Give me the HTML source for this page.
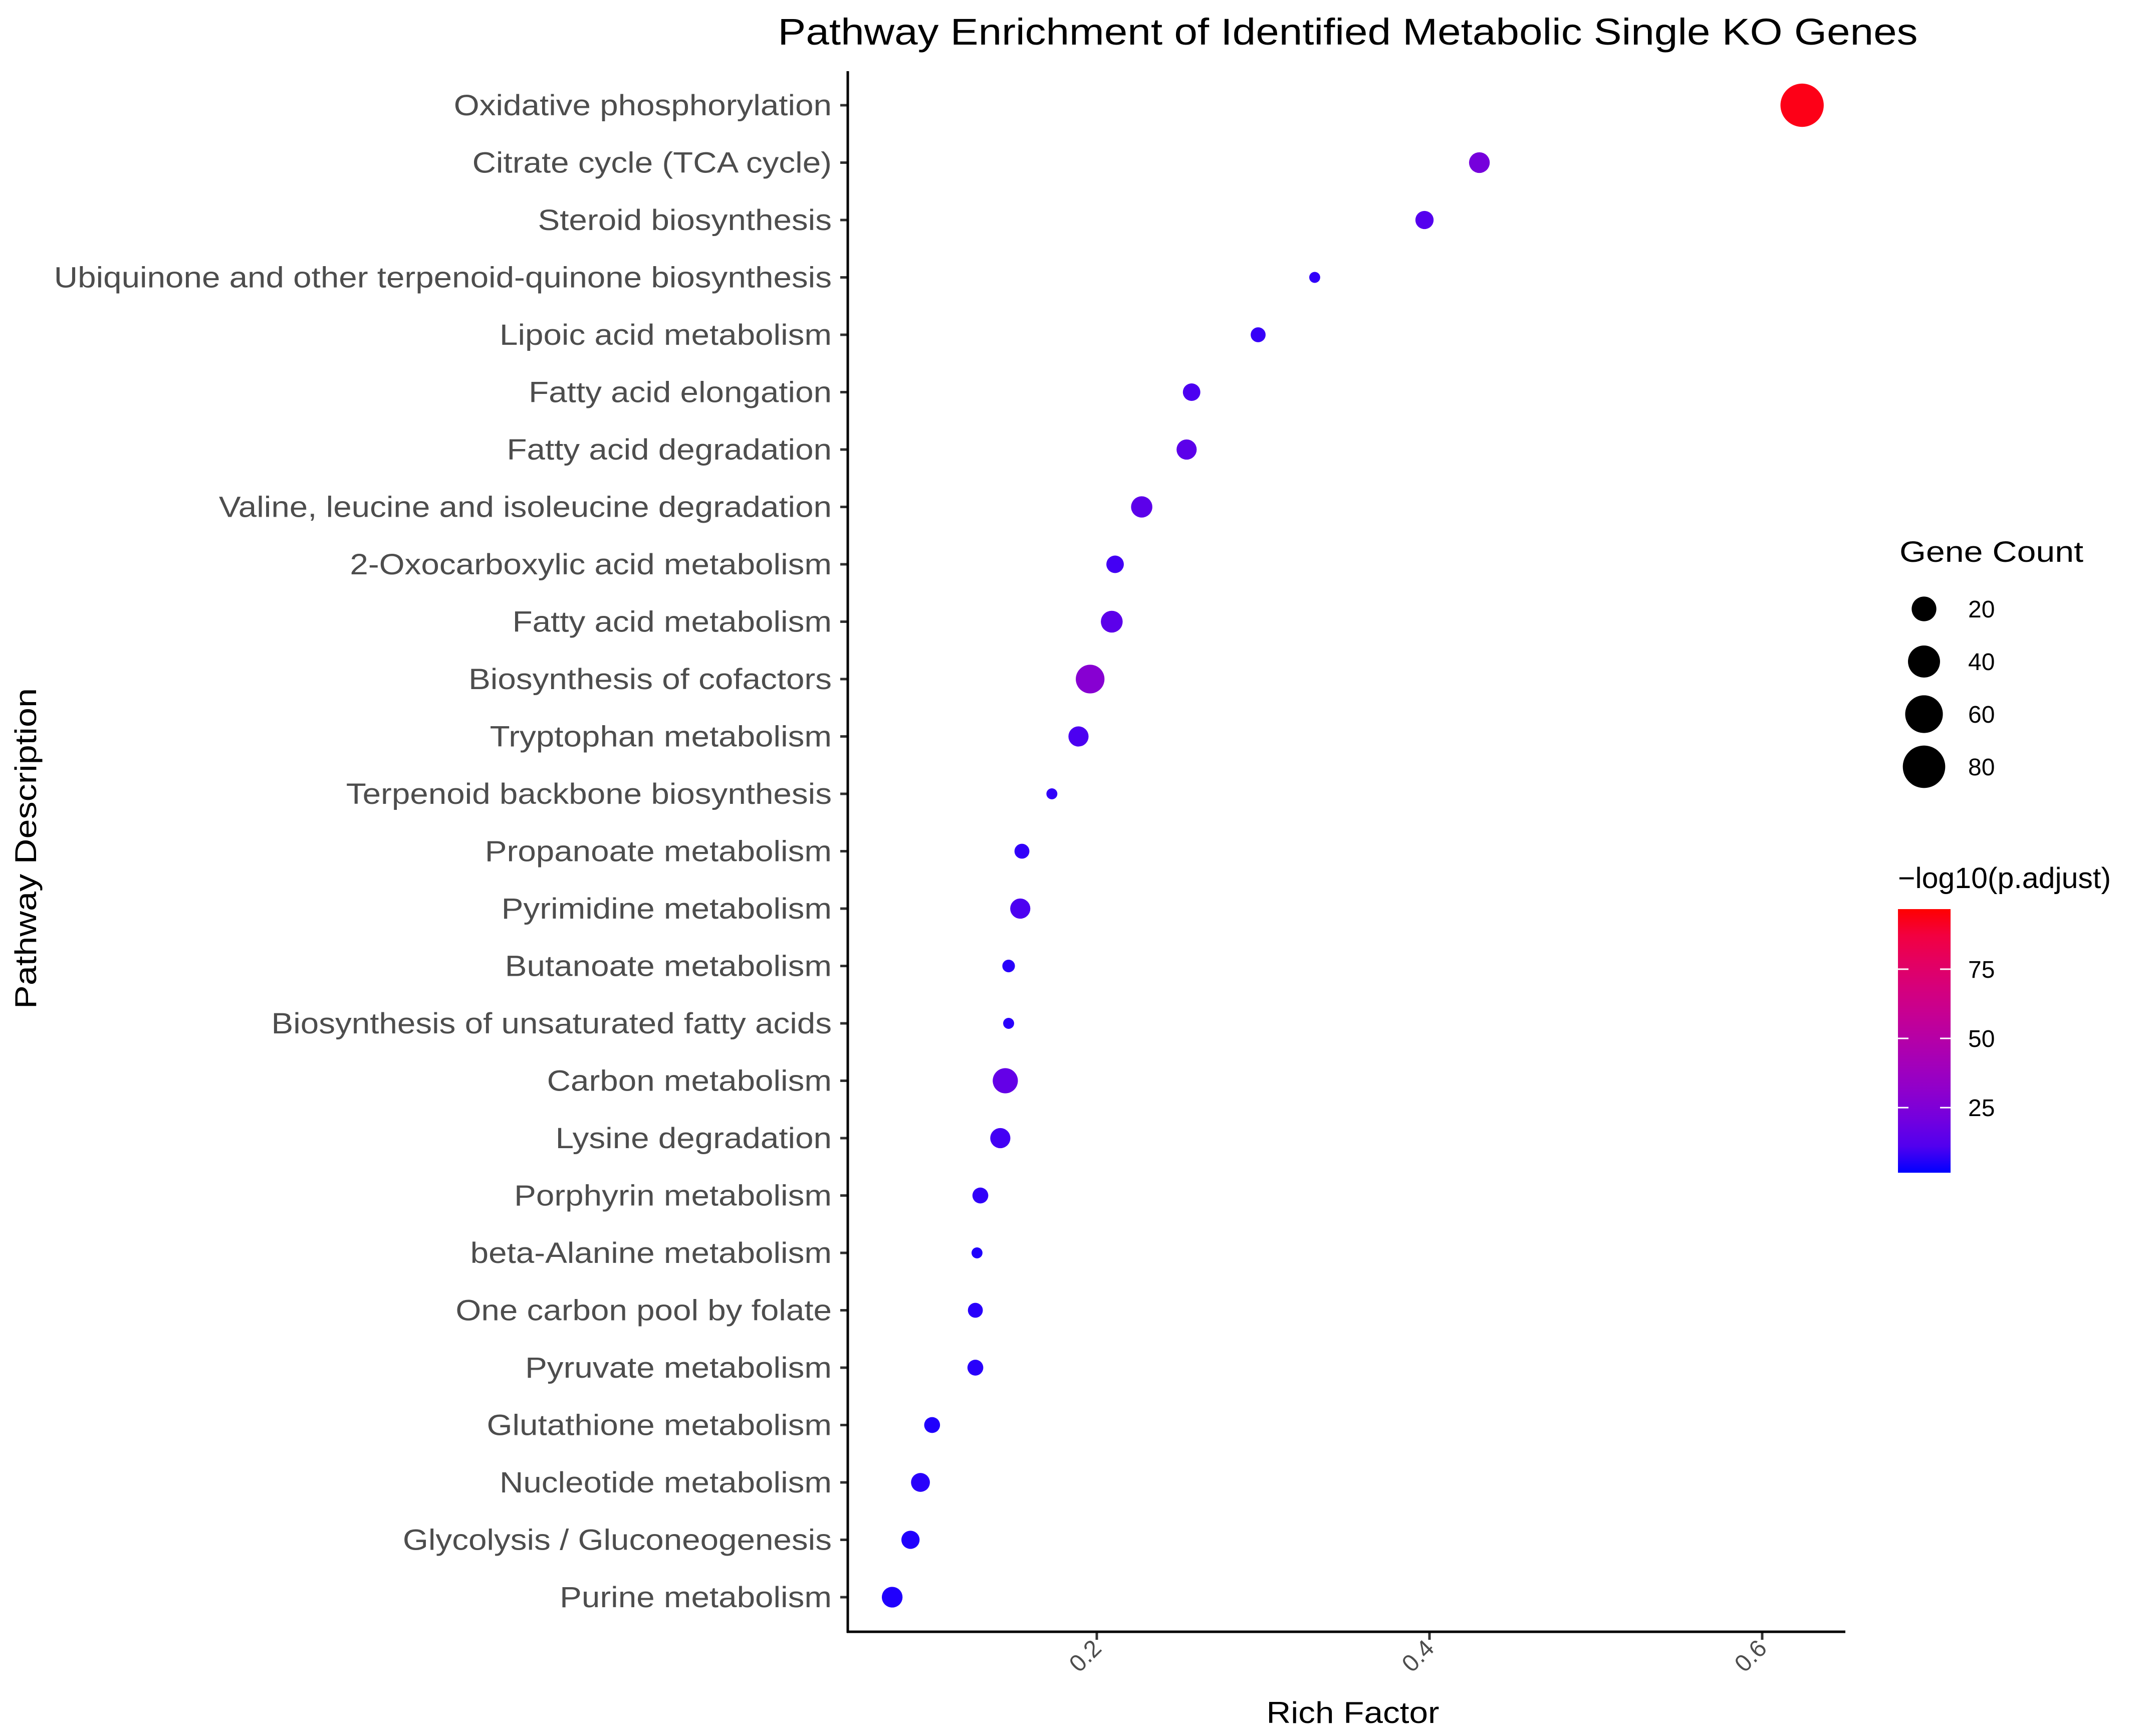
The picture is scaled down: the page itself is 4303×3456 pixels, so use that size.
<!DOCTYPE html>
<html><head><meta charset="utf-8"><style>html,body{margin:0;padding:0;background:#fff}svg{display:block}</style></head>
<body>
<svg id="chart" xmlns="http://www.w3.org/2000/svg" width="4303" height="3456" viewBox="0 0 4303 3456" font-family="'Liberation Sans', sans-serif">
<rect width="4303" height="3456" fill="#fff"/>
<text x="2690" y="89" font-size="74" text-anchor="middle" textLength="2275" lengthAdjust="spacingAndGlyphs" fill="#000">Pathway Enrichment of Identified Metabolic Single KO Genes</text>
<g id="plot"></g>
<line x1="1692" y1="142" x2="1692" y2="3258" stroke="#000" stroke-width="5"/>
<line x1="1690" y1="3256" x2="3683" y2="3256" stroke="#000" stroke-width="5"/>
<text transform="translate(72,1693) rotate(-90)" font-size="60" text-anchor="middle" textLength="640" lengthAdjust="spacingAndGlyphs" fill="#000">Pathway Description</text>
<text x="2700" y="3438" font-size="60" text-anchor="middle" textLength="345" lengthAdjust="spacingAndGlyphs" fill="#000">Rich Factor</text>
<g>
<text x="3791" y="1121" font-size="58" textLength="367" lengthAdjust="spacingAndGlyphs" fill="#000">Gene Count</text>
<g id="sizeLegend"></g>
</g>
<g>
<text x="3788" y="1772" font-size="58" textLength="425" lengthAdjust="spacingAndGlyphs" fill="#000">−log10(p.adjust)</text>
<defs><linearGradient id="cg" x1="0" y1="1" x2="0" y2="0"></linearGradient></defs>
<rect x="3788" y="1814" width="105" height="526" fill="url(#cg)"/>
<g id="colorTicks"></g>
</g>
<script>
const pathways = ["Oxidative phosphorylation","Citrate cycle (TCA cycle)","Steroid biosynthesis","Ubiquinone and other terpenoid-quinone biosynthesis","Lipoic acid metabolism","Fatty acid elongation","Fatty acid degradation","Valine, leucine and isoleucine degradation","2-Oxocarboxylic acid metabolism","Fatty acid metabolism","Biosynthesis of cofactors","Tryptophan metabolism","Terpenoid backbone biosynthesis","Propanoate metabolism","Pyrimidine metabolism","Butanoate metabolism","Biosynthesis of unsaturated fatty acids","Carbon metabolism","Lysine degradation","Porphyrin metabolism","beta-Alanine metabolism","One carbon pool by folate","Pyruvate metabolism","Glutathione metabolism","Nucleotide metabolism","Glycolysis / Gluconeogenesis","Purine metabolism"];
const richFactor = [0.624,0.430,0.397,0.331,0.297,0.257,0.254,0.227,0.211,0.209,0.196,0.189,0.173,0.155,0.154,0.147,0.147,0.145,0.142,0.130,0.128,0.127,0.127,0.101,0.094,0.088,0.077];
const geneCount = [84,12,8,1,4,7,11,13,7,14,30,11,1,4,11,2,1,21,11,5,1,4,5,5,9,8,12];
const negLogP = [95,22,12,5,6,10,14,14,8,14,28,10,5,5,10,4,4,16,8,5,3,4,4,3,4,3,3];
const xTicks = [0.2,0.4,0.6];
const sizeBreaks = [20,40,60,80];
const colorBreaks = [25,50,75];

const NS='http://www.w3.org/2000/svg';
const X0=2189, XPER=3320;
function xs(v){return X0+(v-0.2)*XPER;}
function ys(i){return 210+i*114.5;}
function dia(c){return 14+7.9*Math.sqrt(c);}
const CMIN=1.5, CMAX=96.7;
function col(v){let t=Math.max(0,Math.min(1,(v-CMIN)/(CMAX-CMIN)));
 const r=Math.round(255*Math.pow(t,0.5)), b=Math.round(255*Math.pow(1-t,0.6));
 return `rgb(${r},0,${b})`;}
function cy(v){return 2340-(v-CMIN)/(CMAX-CMIN)*526;}
function mk(tag,attrs,parent){const e=document.createElementNS(NS,tag);for(const k in attrs)e.setAttribute(k,attrs[k]);parent.appendChild(e);return e;}

const plot=document.getElementById('plot');
pathways.forEach((p,i)=>{
 const y=ys(i);
 const t=mk('text',{x:1660,y:y+20,'font-size':58,'text-anchor':'end',fill:'#4d4d4d'},plot);
 t.textContent=p;
 
 
 const w=t.getComputedTextLength();
 if(w>0){t.setAttribute('textLength',(w*1.13).toFixed(1));t.setAttribute('lengthAdjust','spacingAndGlyphs');}
 const tk=mk('line',{x1:1677,y1:y,x2:1692,y2:y,stroke:'#333','stroke-width':5},plot);
 
 
 const c=mk('circle',{cx:xs(richFactor[i]),cy:y,r:dia(geneCount[i])/2,fill:col(negLogP[i])},plot);
 
 
});
xTicks.forEach(v=>{
 const x=xs(v);
 const l=mk('line',{x1:x,y1:3256,x2:x,y2:3272,stroke:'#333','stroke-width':5},plot);
 
 
 const t=mk('text',{transform:`translate(${x+12},${3292}) rotate(-45)`,'font-size':48,'text-anchor':'end',fill:'#4d4d4d'},plot);
 t.textContent=String(v);
 
 
});
const sl=document.getElementById('sizeLegend');
sizeBreaks.forEach((s,i)=>{
 const y=1215+i*105;
 const c=mk('circle',{cx:3840,cy:y,r:dia(s)/2,fill:'#000'},sl);
 
 
 const t=mk('text',{x:3928,y:y+17,'font-size':48,fill:'#000'},sl);
 t.textContent=String(s);
 
 
});
const g=document.getElementById('cg');
for(let k=0;k<=10;k++){const v=CMIN+(CMAX-CMIN)*k/10;
 mk('stop',{offset:(k*10)+'%','stop-color':col(v)},g);}
const ct=document.getElementById('colorTicks');
colorBreaks.forEach(v=>{
 const y=cy(v);
 const a=mk('line',{x1:3788,y1:y,x2:3809,y2:y,stroke:'#fff','stroke-width':3},ct);
 
 
 const b=mk('line',{x1:3872,y1:y,x2:3893,y2:y,stroke:'#fff','stroke-width':3},ct);
 
 
 const t=mk('text',{x:3928,y:y+17,'font-size':48,fill:'#000'},ct);
 t.textContent=String(v);
 
 
});
</script>
</svg>
</body></html>
